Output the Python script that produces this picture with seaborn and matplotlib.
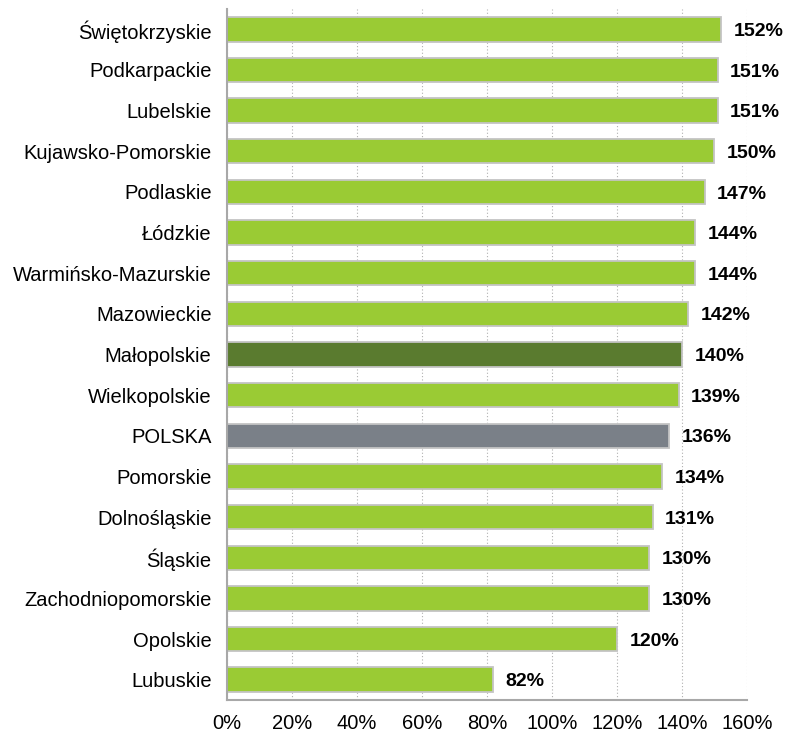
import matplotlib
matplotlib.use("Agg")
import matplotlib.pyplot as plt
import seaborn as sns
import pandas as pd

regions = ["Świętokrzyskie", "Podkarpackie", "Lubelskie", "Kujawsko-Pomorskie",
           "Podlaskie", "Łódzkie", "Warmińsko-Mazurskie", "Mazowieckie",
           "Małopolskie", "Wielkopolskie", "POLSKA", "Pomorskie",
           "Dolnośląskie", "Śląskie", "Zachodniopomorskie", "Opolskie", "Lubuskie"]
values = [152, 151, 151, 150, 147, 144, 144, 142, 140, 139, 136, 134, 131, 130, 130, 120, 82]
ticks = [0, 20, 40, 60, 80, 100, 120, 140, 160]

green = "#9acb34"
colors = {r: green for r in regions}
colors["Małopolskie"] = "#5a7b2f"
colors["POLSKA"] = "#7a8088"

df = pd.DataFrame({"region": regions, "value": values})

sns.set_style("white")
plt.rcParams["font.family"] = ["Liberation Sans", "DejaVu Sans"]

fig = plt.figure(figsize=(7.85, 7.34), dpi=100)
ax = fig.add_axes([0.289, 0.0463, 0.6624, 0.9414])

sns.barplot(data=df, x="value", y="region", hue="region", palette=colors,
            saturation=1, legend=False, width=0.6, edgecolor="#c4c4c4",
            linewidth=1.3, ax=ax)

# value labels to the right of each bar
for i, v in enumerate(values):
    ax.annotate(f"{v}%", (v, i), xytext=(9, -1.5), textcoords="offset points",
                va="center", ha="left", fontsize=14, fontweight="bold", color="black")

ax.set_xlim(0, 160)
ax.set_ylim(16.5, -0.5)
ax.set_xticks(ticks)
ax.set_xticklabels([f"{t}%" for t in ticks], fontsize=14.5)
ax.tick_params(axis="y", labelsize=14.5, length=0, pad=11, labelcolor="black")
ax.tick_params(axis="x", length=0, pad=10, labelcolor="black")
ax.set_xlabel("")
ax.set_ylabel("")
ax.xaxis.grid(True, linestyle=(0, (1, 2)), color="#b0b0b0", linewidth=0.8)
ax.set_axisbelow(True)
for s in ["top", "right"]:
    ax.spines[s].set_visible(False)
for s in ["left", "bottom"]:
    ax.spines[s].set_color("#a8a8a8")
    ax.spines[s].set_linewidth(1.5)

fig.savefig("out.png", dpi=100)
